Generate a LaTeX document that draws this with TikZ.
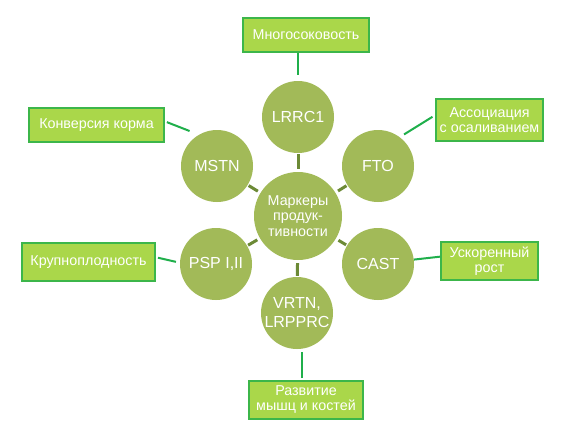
\documentclass[tikz,border=0pt]{standalone}
\usepackage{fontspec}
\setmainfont{Liberation Sans}
\usetikzlibrary{calc}
\definecolor{circ}{HTML}{A2BA58}
\definecolor{boxfill}{HTML}{AAD74A}
\definecolor{boxline}{HTML}{3CB64A}
\definecolor{linkc}{HTML}{1FAF4B}
\definecolor{spokec}{HTML}{6C8A36}
\begin{document}
\begin{tikzpicture}[x=1pt,y=-1pt,
  sat/.style={circle,fill=circ,minimum size=72pt,inner sep=0pt,text=white,
    font=\fontsize{16}{19}\selectfont,align=center},
  hub/.style={circle,fill=circ,minimum size=88pt,inner sep=0pt,text=white,
    font=\fontsize{14.3}{15.5}\selectfont,align=center},
  lbl/.style={rectangle,fill=boxfill,draw=boxline,line width=2pt,text=white,
    font=\fontsize{14.3}{15}\selectfont,align=center,inner sep=0pt},
  spokeline/.style={draw=spokec,line width=3pt,shorten <=1pt,shorten >=3pt},
  linkline/.style={draw=linkc,line width=2pt}]
\useasboundingbox (0,0) rectangle (565,439);
\fill[white] (0,0) rectangle (565,439);

\node[hub] (hub) at (298,216) {Маркеры\\продук-\\тивности};
\node[sat] (lrrc) at (298,117) {LRRC1};
\node[sat] (fto)  at (378,166) {FTO};
\node[sat] (cast) at (378,264) {CAST};
\node[sat] (vrtn) at (297,313) {VRTN,\\LRPPRC};
\node[sat] (psp)  at (216,264) {PSP I,II};
\node[sat] (mstn) at (217,166) {MSTN};

\node[lbl,minimum width=126pt,minimum height=34pt] (mnog) at (306,35) {Многосоковость};
\node[lbl,minimum width=107pt,minimum height=42pt] (assoc) at (489.5,120) {Ассоциация\\с осаливанием};
\node[lbl,minimum width=135pt,minimum height=34pt] (konv) at (96.5,125) {Конверсия корма};
\node[lbl,minimum width=133pt,minimum height=38pt] (krup) at (88.5,262) {Крупноплодность};
\node[lbl,minimum width=97pt,minimum height=38pt] (usk) at (489.5,261) {Ускоренный\\рост};
\node[lbl,minimum width=114pt,minimum height=38pt] (razv) at (306,400) {Развитие\\мышц и костей};

\foreach \s in {lrrc,fto,cast,vrtn,psp,mstn}
  \draw[spokeline] (\s) -- (hub);

\draw[linkline,shorten <=6pt] (lrrc.north) -- (lrrc.north |- mnog.south);
\draw[linkline,shorten <=5pt,shorten >=3pt] (fto.53) -- (assoc.175);
\draw[linkline,shorten <=2pt,shorten >=10pt] (konv.3) -- (mstn.120);
\draw[linkline,shorten <=2pt,shorten >=4pt] (krup.4) -- (psp.178);
\draw[linkline] (cast.7) -- (usk.175);
\draw[linkline,shorten <=2pt,shorten >=3pt] (razv.102) -- (razv.102 |- vrtn.south);
\end{tikzpicture}
\end{document}
